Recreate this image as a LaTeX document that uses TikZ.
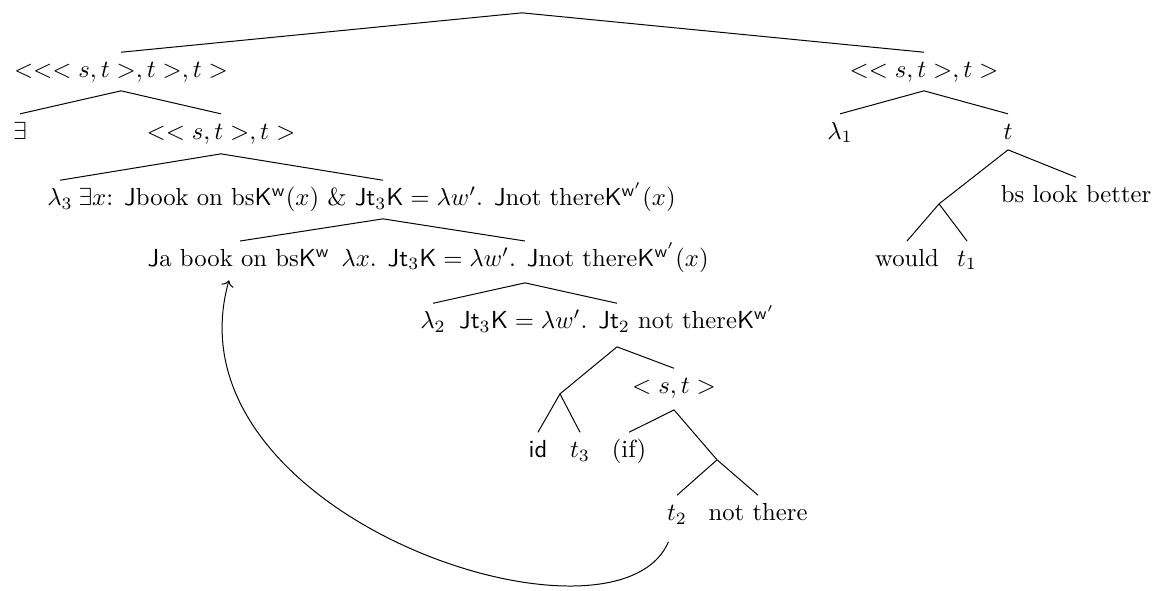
\documentclass[tikz,border=0pt]{standalone}
\usepackage{amsmath}
\usepackage{tikz}
\usetikzlibrary{
    arrows.meta,
    calc
}
\newcommand{\denl}{\textsf{J}}
\newcommand{\denr}{\textsf{K}}
\tikzset{
    line cap=round,
    line join=round,
    treenode/.style={
        inner sep=3pt,
        text height=7pt,
        text depth=2.5pt
    },
    longnode/.style={
        treenode,
        anchor=west
    },
    branch/.style={
        draw=black,
        line width=0.4pt
    },
    movement/.style={
        ->,
        draw=black,
        line width=0.4pt
    }
}

\begin{document}
\begin{tikzpicture}

\useasboundingbox (0,0) rectangle (16.41,8.41);

% branching points
\coordinate (top) at (7.430,8.227);
\coordinate (l1-fork) at (1.722,7.117);
\coordinate (r1-fork) at (13.151,7.117);
\coordinate (l2-fork) at (3.145,6.220);
\coordinate (t-fork) at (14.347,6.277);
\coordinate (ex-fork) at (5.451,5.295);
\coordinate (lx-fork) at (7.472,4.384);
\coordinate (n3-fork) at (8.782,3.473);
\coordinate (st-fork) at (9.593,2.576);
\coordinate (u1) at (7.970,2.804);
\coordinate (u2) at (10.205,1.865);
\coordinate (u3) at (13.365,5.508);

% left half
\node[treenode] (l1) at (1.722,7.387) {$<<<s,t>,t>,t>$};
\node[treenode] (exists) at (0.285,6.510) {$\exists$};
\node[treenode] (l2) at (3.145,6.510) {$<<s,t>,t>$};
\node[treenode] (lam3) at (0.854,5.565) {$\lambda_3$};
\node[longnode] (ex) at (1.005,5.565) {$\exists x$: \denl book on bs\denr$^{\mathsf{w}}(x)$ \& \denl\textsf{t}$_3$\denr${}=\lambda w'$. \denl not there\denr$^{\mathsf{w}'}(x)$};
\node[longnode] (book) at (1.990,4.700) {\denl a book on bs\denr$^{\mathsf{w}}$};
\node[treenode] (lx) at (7.472,4.700) {$\lambda x$. \denl\textsf{t}$_3$\denr${}=\lambda w'$. \denl not there\denr$^{\mathsf{w}'}(x)$};
\node[treenode] (lam2) at (6.163,3.814) {$\lambda_2$};
\node[treenode] (n3) at (8.782,3.814) {\denl\textsf{t}$_3$\denr${}=\lambda w'$. \denl\textsf{t}$_2$ not there\denr$^{\mathsf{w}'}$};
\node[treenode] (st) at (9.593,2.889) {$<s,t>$};
\node[treenode] (id) at (7.657,1.978) {\textsf{id}};
\node[treenode] (t3) at (8.255,1.978) {$t_3$};
\node[treenode] (if) at (8.952,1.978) {(if)};
\node[treenode] (t2) at (9.636,1.082) {$t_2$};
\node[treenode] (nt) at (10.789,1.082) {not there};

% right half
\node[treenode] (r1) at (13.151,7.387) {$<<s,t>,t>$};
\node[treenode] (lam1) at (11.956,6.510) {$\lambda_1$};
\node[treenode] (tnode) at (14.347,6.510) {$t$};
\node[treenode] (blb) at (15.315,5.608) {bs look better};
\node[treenode] (would) at (12.909,4.700) {would};
\node[treenode] (t1) at (13.763,4.700) {$t_1$};

% branches
\foreach \from/\to in {top/l1, top/r1, l1-fork/exists, l1-fork/l2, l2-fork/lam3,
    ex-fork/lx, lx-fork/lam2, lx-fork/n3, n3-fork/st, u1/id, u1/t3, st-fork/if,
    u2/t2, u2/nt, r1-fork/lam1, r1-fork/tnode, t-fork/blb, u3/would, u3/t1} {
    \draw[branch] (\from) -- (\to.north);
}
\foreach \from/\to in {n3-fork/u1, st-fork/u2, t-fork/u3} {
    \draw[branch] (\from) -- (\to);
}
\draw[branch] (l2-fork) -- (ex.north -| ex-fork);
\draw[branch] (ex-fork) -- ([xshift=1.426cm]book.north west);

% movement of t2
\draw[movement] ([xshift=-3.5pt,yshift=-3pt]t2.south)
    .. controls +(-0.75,-1.75) and +(-0.95,-3.35) .. ([xshift=1.269cm]book.south west);

\end{tikzpicture}
\end{document}
